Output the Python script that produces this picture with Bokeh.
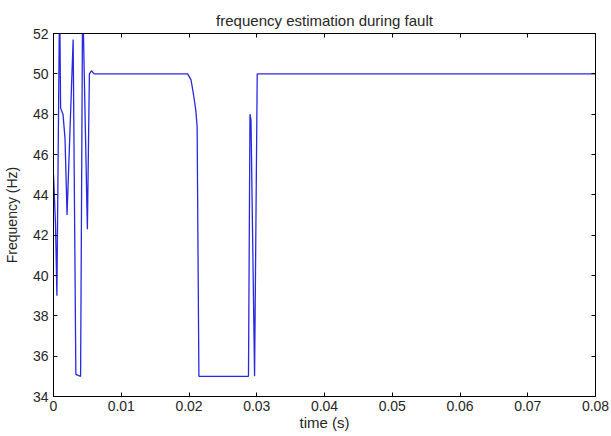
from bokeh.plotting import figure
from bokeh.models import Range1d, LinearAxis, FixedTicker, CustomJSTickFormatter
from bokeh.embed import file_html
from bokeh.resources import INLINE

# time (s) and estimated frequency (Hz)
time_s = [0.0, 0.0003, 0.0005, 0.0009, 0.00105, 0.0014, 0.0017, 0.002, 0.0029,
          0.0033, 0.004, 0.0043, 0.005, 0.0053, 0.0056, 0.006,
          0.0198, 0.0203, 0.0207, 0.021, 0.0212, 0.02146,
          0.02878, 0.0290, 0.02915, 0.02968, 0.03007, 0.08]
freq_hz = [45.0, 42.5, 39.0, 54.0, 48.3, 48.0, 46.8, 43.0, 51.7,
           35.1, 35.0, 54.0, 42.3, 50.0, 50.15, 50.0,
           50.0, 49.7, 48.9, 48.2, 47.4, 35.0,
           35.0, 48.0, 47.7, 35.0, 50.0, 50.0]

x_ticks = [0, 0.01, 0.02, 0.03, 0.04, 0.05, 0.06, 0.07, 0.08]
x_tick_labels = ["0", "0.01", "0.02", "0.03", "0.04", "0.05", "0.06", "0.07", "0.08"]
y_ticks = [34, 36, 38, 40, 42, 44, 46, 48, 50, 52]

title_text = "frequency estimation during fault"
x_label = "time (s)"
y_label = "Frequency (Hz)"

FONT = "Liberation Sans"
TXT = "#262626"

p = figure(width=611, height=436, output_backend="svg", toolbar_location=None,
           x_range=Range1d(0, 0.08), y_range=Range1d(34, 52),
           min_border_left=53, min_border_right=16, min_border_top=33, min_border_bottom=40,
           title=title_text)
p.background_fill_color = "white"
p.border_fill_color = "white"
p.outline_line_color = "black"
p.outline_line_width = 1
p.grid.visible = False

p.title.text_font = FONT
p.title.text_font_size = "15px"
p.title.text_font_style = "normal"
p.title.align = "center"
p.title.text_color = TXT
p.title.offset = -6

p.line(time_s, freq_hz, line_color="#2828e0", line_width=1.3)

def style(ax, labels=True):
    ax.major_tick_in = 4
    ax.major_tick_out = 0
    ax.minor_tick_line_color = None
    ax.axis_line_color = "black"
    ax.major_tick_line_color = "black"
    ax.major_label_text_font = FONT
    ax.major_label_text_font_size = "14px"
    ax.major_label_text_color = TXT
    ax.axis_label_text_font = FONT
    ax.axis_label_text_font_size = "14px"
    ax.axis_label_text_font_style = "normal"
    ax.axis_label_text_color = TXT
    if not labels:
        ax.major_label_text_font_size = "0px"
        ax.major_label_standoff = 0

xa = p.xaxis[0]
xa.ticker = FixedTicker(ticks=x_ticks)
xa.major_label_overrides = {t: l for t, l in zip(x_ticks, x_tick_labels)}
xa.axis_label = x_label
style(xa)
xa.axis_label_text_font_size = "15px"
xa.axis_label_standoff = 0
xa.major_label_standoff = 4

ya = p.yaxis[0]
ya.ticker = FixedTicker(ticks=y_ticks)
ya.axis_label = y_label
style(ya)
ya.axis_label_standoff = 10
ya.major_label_standoff = 5

top = LinearAxis(ticker=FixedTicker(ticks=x_ticks),
                 formatter=CustomJSTickFormatter(code="return ''"))
style(top, labels=False)
p.add_layout(top, "above")

right = LinearAxis(ticker=FixedTicker(ticks=y_ticks),
                   formatter=CustomJSTickFormatter(code="return ''"))
style(right, labels=False)
p.add_layout(right, "right")

open("out.html", "w").write(file_html(p, INLINE))
